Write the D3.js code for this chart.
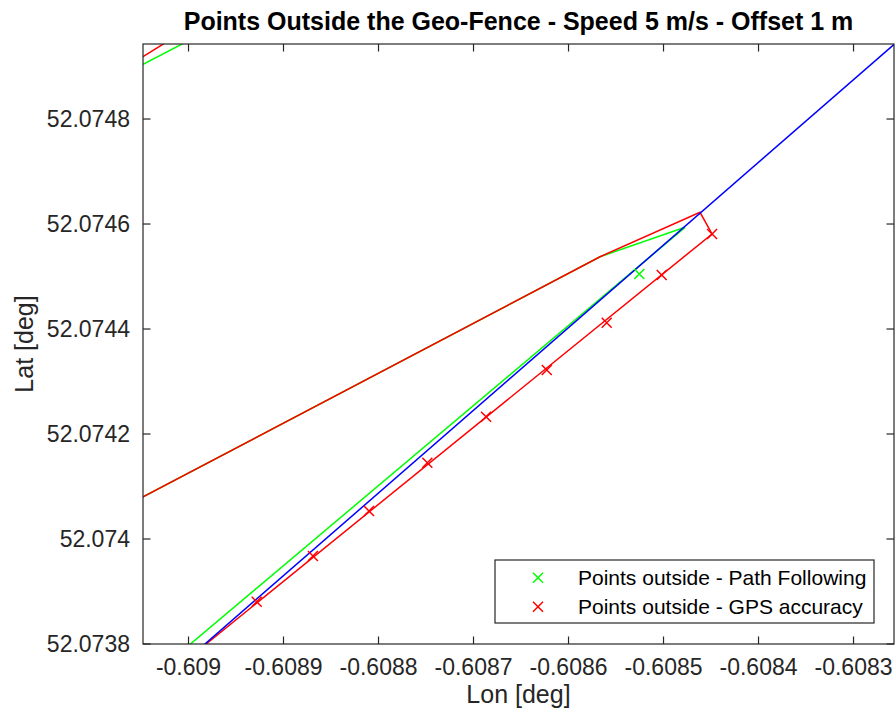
<!DOCTYPE html>
<html>
<head>
<meta charset="utf-8">
<script src="https://cdn.jsdelivr.net/npm/d3@7"></script>
<style>
  body { margin: 0; background: #fff; }
  text { font-family: Arial, "Liberation Sans", Helvetica, sans-serif; }
</style>
</head>
<body>
<svg id="chart" width="895" height="722"></svg>
<script>
// flight path (straight segment) [lon, lat]
var pathLon = [-0.609003, -0.608246];
var pathLat = [52.073768, 52.074960];

// geo-fence outline, path following (green)
var fenceGreenLon = [-0.6089785, -0.6090932, -0.6090932, -0.6085668, -0.6084774, -0.6090192];
var fenceGreenLat = [52.0749695, 52.0748615, 52.0740370, 52.0745377, 52.0745937, 52.0737676];

// geo-fence outline, GPS accuracy (red)
var fenceRedLon = [-0.6090026, -0.6090932, -0.6090932, -0.6085668, -0.6084616, -0.6084489, -0.6090035];
var fenceRedLat = [52.0749695, 52.0748686, 52.0740370, 52.0745377, 52.0746223, 52.0745810, 52.0737676];

// points outside - path following
var outGreenLon = [-0.6085255];
var outGreenLat = [52.0745048];

// points outside - GPS accuracy
var outRedLon = [-0.6084489, -0.6085019, -0.6085598, -0.6086229, -0.6086868, -0.6087486, -0.6088100, -0.6088690, -0.6089282];
var outRedLat = [52.0745810, 52.0745029, 52.0744120, 52.0743219, 52.0742330, 52.0741453, 52.0740533, 52.0739676, 52.0738806];

var xTicks = [-0.609, -0.6089, -0.6088, -0.6087, -0.6086, -0.6085, -0.6084, -0.6083];
var xTickLabels = ["-0.609", "-0.6089", "-0.6088", "-0.6087", "-0.6086", "-0.6085", "-0.6084", "-0.6083"];
var yTicks = [52.0738, 52.074, 52.0742, 52.0744, 52.0746, 52.0748];
var yTickLabels = ["52.0738", "52.074", "52.0742", "52.0744", "52.0746", "52.0748"];

var legendLabels = ["Points outside - Path Following", "Points outside - GPS accuracy"];

var svg = d3.select("#chart"),
    pl = 143, pr = 894, pt = 44, pb = 644,
    axisColor = "#262626";

var x = d3.scaleLinear().domain([-0.6090479, -0.6082574]).range([pl, pr]);
var y = d3.scaleLinear().domain([52.0738, 52.0749429]).range([pb, pt]);

svg.append("defs").append("clipPath").attr("id", "plotclip")
  .append("rect").attr("x", pl).attr("y", pt).attr("width", pr - pl).attr("height", pb - pt);

var zip = function(lons, lats) { return lons.map(function(d, i) { return [d, lats[i]]; }); };
var line = d3.line().x(function(d) { return x(d[0]); }).y(function(d) { return y(d[1]); });

var plot = svg.append("g").attr("clip-path", "url(#plotclip)");

plot.append("path").datum(zip(fenceGreenLon, fenceGreenLat))
  .attr("d", line).attr("fill", "none").attr("stroke", "#00ff00").attr("stroke-width", 1.5);
plot.append("path").datum(zip(fenceRedLon, fenceRedLat))
  .attr("d", line).attr("fill", "none").attr("stroke", "#ff0000").attr("stroke-width", 1.5);
plot.append("path").datum(zip(pathLon, pathLat))
  .attr("d", line).attr("fill", "none").attr("stroke", "#0000ff").attr("stroke-width", 1.5);

var cross = function(g, pts, color) {
  var s = 5;
  g.selectAll(null).data(pts).enter().append("path")
    .attr("d", function(d) {
      var cx = x(d[0]), cy = y(d[1]);
      return "M" + (cx - s) + "," + (cy - s) + "L" + (cx + s) + "," + (cy + s) +
             "M" + (cx - s) + "," + (cy + s) + "L" + (cx + s) + "," + (cy - s);
    })
    .attr("stroke", color).attr("stroke-width", 1.5).attr("fill", "none");
};
cross(plot, zip(outGreenLon, outGreenLat), "#00ff00");
cross(plot, zip(outRedLon, outRedLat), "#ff0000");

// axes box + ticks (matlab style, ticks inside)
var axes = svg.append("g");
axes.append("rect").attr("x", pl).attr("y", pt).attr("width", pr - pl).attr("height", pb - pt)
  .attr("fill", "none").attr("stroke", axisColor).attr("stroke-width", 1.2);

xTicks.forEach(function(t, i) {
  var px = x(t);
  axes.append("line").attr("x1", px).attr("x2", px).attr("y1", pb).attr("y2", pb - 7.5)
    .attr("stroke", axisColor).attr("stroke-width", 1.2);
  axes.append("line").attr("x1", px).attr("x2", px).attr("y1", pt).attr("y2", pt + 7.5)
    .attr("stroke", axisColor).attr("stroke-width", 1.2);
  axes.append("text").attr("x", px).attr("y", 675).attr("text-anchor", "middle")
    .attr("font-size", 23).attr("fill", axisColor).text(xTickLabels[i]);
});
yTicks.forEach(function(t, i) {
  var py = y(t);
  axes.append("line").attr("x1", pl).attr("x2", pl + 7.5).attr("y1", py).attr("y2", py)
    .attr("stroke", axisColor).attr("stroke-width", 1.2);
  axes.append("line").attr("x1", pr).attr("x2", pr - 7.5).attr("y1", py).attr("y2", py)
    .attr("stroke", axisColor).attr("stroke-width", 1.2);
  axes.append("text").attr("x", 130).attr("y", py).attr("dy", "0.35em").attr("text-anchor", "end")
    .attr("font-size", 23).attr("fill", axisColor).text(yTickLabels[i]);
});

svg.append("text").attr("x", (pl + pr) / 2).attr("y", 703).attr("text-anchor", "middle")
  .attr("font-size", 25).attr("fill", axisColor).text("Lon [deg]");
svg.append("text").attr("transform", "translate(33," + (pt + pb) / 2 + ") rotate(-90)")
  .attr("text-anchor", "middle").attr("font-size", 25).attr("fill", axisColor).text("Lat [deg]");
svg.append("text").attr("x", (pl + pr) / 2).attr("y", 30).attr("text-anchor", "middle")
  .attr("font-size", 25).attr("font-weight", "bold").attr("fill", "#000")
  .text("Points Outside the Geo-Fence - Speed 5 m/s - Offset 1 m");

// legend
var lg = svg.append("g");
lg.append("rect").attr("x", 495).attr("y", 560).attr("width", 379).attr("height", 63)
  .attr("fill", "#fff").attr("stroke", axisColor).attr("stroke-width", 1.2);
var legendColors = ["#00ff00", "#ff0000"];
legendLabels.forEach(function(lbl, i) {
  var ly = 577.7 + i * 29;
  var s = 5;
  lg.append("path")
    .attr("d", "M" + (538 - s) + "," + (ly - s) + "L" + (538 + s) + "," + (ly + s) +
               "M" + (538 - s) + "," + (ly + s) + "L" + (538 + s) + "," + (ly - s))
    .attr("stroke", legendColors[i]).attr("stroke-width", 1.5);
  lg.append("text").attr("x", 578).attr("y", ly).attr("dy", "0.35em")
    .attr("font-size", 21).attr("fill", "#000").text(lbl);
});
</script>
</body>
</html>
